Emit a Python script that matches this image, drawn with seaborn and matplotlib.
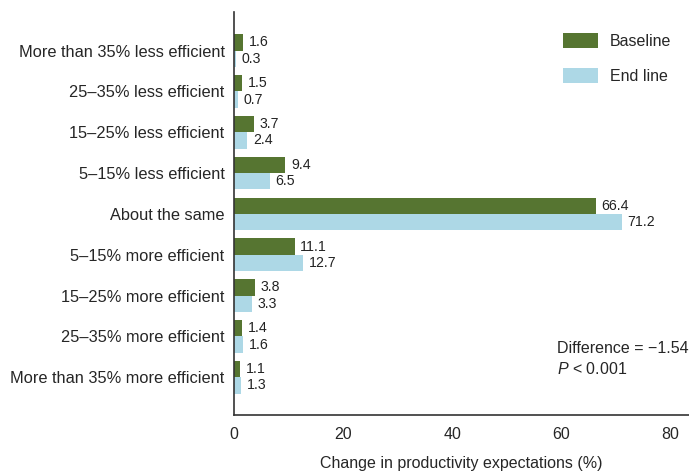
import matplotlib
matplotlib.use("Agg")
import matplotlib.pyplot as plt
import seaborn as sns
import pandas as pd
from matplotlib.patches import Patch

categories = [
    "More than 35% less efficient",
    "25–35% less efficient",
    "15–25% less efficient",
    "5–15% less efficient",
    "About the same",
    "5–15% more efficient",
    "15–25% more efficient",
    "25–35% more efficient",
    "More than 35% more efficient",
]
baseline = [1.6, 1.5, 3.7, 9.4, 66.4, 11.1, 3.8, 1.4, 1.1]
endline = [0.3, 0.7, 2.4, 6.5, 71.2, 12.7, 3.3, 1.6, 1.3]
series = ["Baseline", "End line"]
colors = ["#567531", "#add8e6"]
x_ticks = [0, 20, 40, 60, 80]

df = pd.DataFrame({
    "category": categories * 2,
    "value": baseline + endline,
    "series": [series[0]] * len(categories) + [series[1]] * len(categories),
})

sns.set_style("white")
plt.rcParams["font.family"] = ["Liberation Sans", "DejaVu Sans"]
plt.rcParams["mathtext.fontset"] = "custom"
plt.rcParams["mathtext.it"] = "Liberation Sans:italic"
plt.rcParams["mathtext.rm"] = "Liberation Sans"

FS = 11.5

fig = plt.figure(figsize=(6.89, 4.73), dpi=100)
ax = fig.add_axes([0.34, 0.123, 0.66, 0.852])

sns.barplot(data=df, y="category", x="value", hue="series", order=categories,
            hue_order=series, palette=colors, orient="h", width=0.8,
            saturation=1, linewidth=0, ax=ax, legend=False)

# value labels at the end of each bar
for container in ax.containers:
    ax.bar_label(container, fmt="%.1f", padding=4, fontsize=10.2, color="#222222")

ax.set_xlim(0, 83.5)
ax.set_ylim(8.92, -0.95)
ax.set_xticks(x_ticks)
ax.set_xticklabels([str(t) for t in x_ticks], fontsize=FS)
ax.tick_params(axis="x", direction="out", length=5, width=1, color="#333333", pad=4)
ax.tick_params(axis="y", length=0, labelsize=11.8, pad=7)
ax.set_ylabel("")
ax.set_xlabel("Change in productivity expectations (%)", fontsize=FS, labelpad=10)

for side in ["top", "right"]:
    ax.spines[side].set_visible(False)
for side in ["left", "bottom"]:
    ax.spines[side].set_color("#333333")
    ax.spines[side].set_linewidth(1.2)

handles = [Patch(facecolor=c, edgecolor="none", label=s) for c, s in zip(colors, series)]
ax.legend(handles=handles, loc="upper right", bbox_to_anchor=(0.985, 0.975),
          frameon=False, fontsize=FS, handlelength=2.15, handleheight=1.05,
          labelspacing=1.2, handletextpad=0.75, borderaxespad=0.3)

ax.text(0.71, 0.165, "Difference = \u22121.54", transform=ax.transAxes,
        fontsize=FS, ha="left", va="center")
ax.text(0.71, 0.113, "$P$ < 0.001", transform=ax.transAxes,
        fontsize=FS, ha="left", va="center")

fig.savefig("out.png", dpi=100)
